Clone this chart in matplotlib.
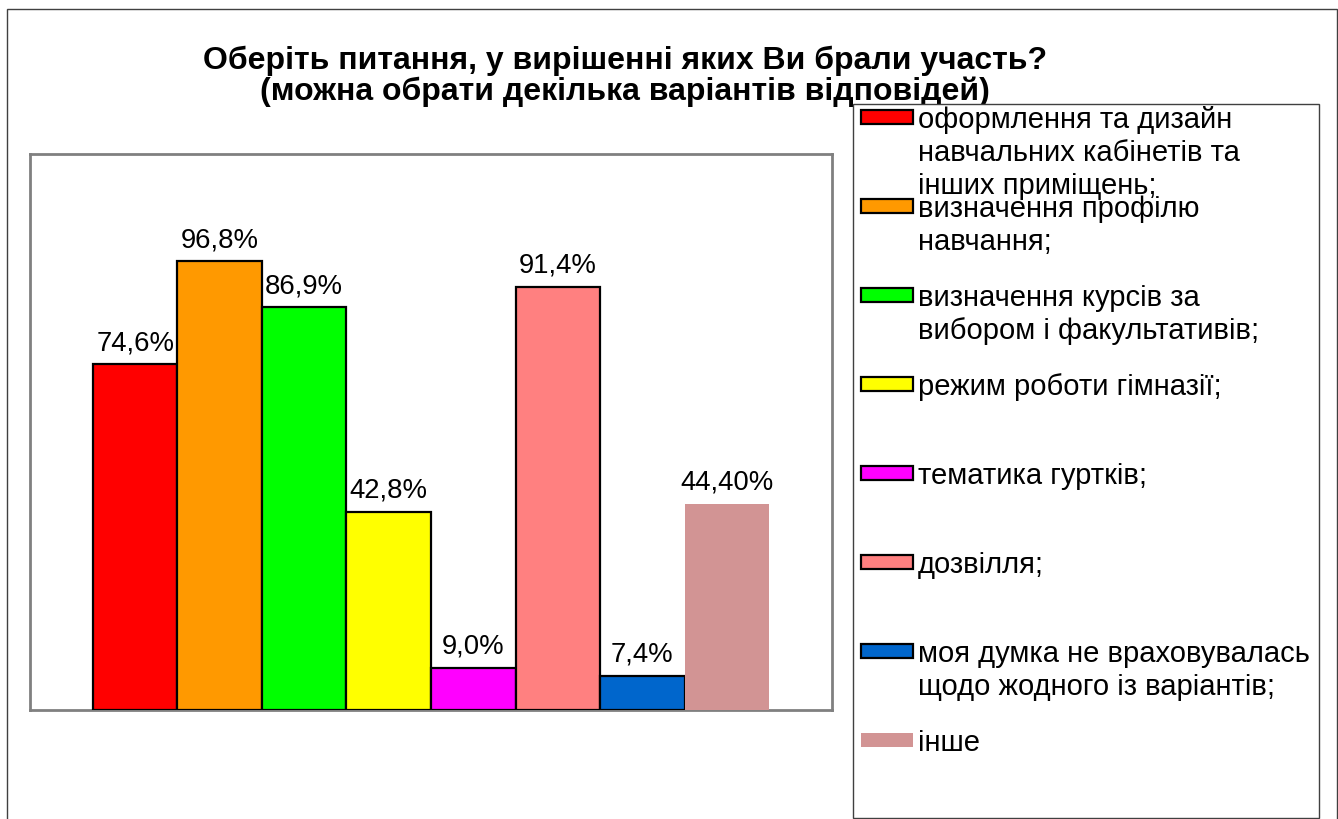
import matplotlib
matplotlib.use('Agg')
import matplotlib.pyplot as plt
from matplotlib.patches import Rectangle

plt.rcParams['font.family'] = ['Liberation Sans', 'DejaVu Sans']

# Data
categories = [
    "оформлення та дизайн\nнавчальних кабінетів та\nінших приміщень;",
    "визначення профілю\nнавчання;",
    "визначення курсів за\nвибором і факультативів;",
    "режим роботи гімназії;",
    "тематика гуртків;",
    "дозвілля;",
    "моя думка не враховувалась\nщодо жодного із варіантів;",
    "інше",
]
values = [74.6, 96.8, 86.9, 42.8, 9.0, 91.4, 7.4, 44.4]
value_labels = ["74,6%", "96,8%", "86,9%", "42,8%", "9,0%", "91,4%", "7,4%", "44,40%"]
colors = ["#FF0000", "#FF9900", "#00FF00", "#FFFF00", "#FF00FF", "#FF8080", "#0066CC", "#D29494"]
edged = [True, True, True, True, True, True, True, False]

title = "Оберіть питання, у вирішенні яких Ви брали участь?\n(можна обрати декілька варіантів відповідей)"

W, H = 1338, 819
fig = plt.figure(figsize=(W / 100, H / 100), dpi=100)


def fx(px):
    return px / W


def fy(py):
    return 1 - py / H


# outer chart frame
fig.patches.append(Rectangle((fx(7), fy(840)), fx(1337) - fx(7), fy(9) - fy(840),
                             transform=fig.transFigure, fill=False,
                             edgecolor="#404040", linewidth=1.0, zorder=0))

# plot area
ax = fig.add_axes([fx(30), fy(710), fx(832) - fx(30), fy(154) - fy(710)])
for s in ax.spines.values():
    s.set_color("#808080")
    s.set_linewidth(2)
ax.set_xticks([])
ax.set_yticks([])
ax.set_ylim(0, 120)
ax.set_xlim(-1.245, len(values) - 1 + 1.245)

for i, (v, c, e) in enumerate(zip(values, colors, edged)):
    ax.bar(i, v, width=1.0, color=c,
           edgecolor="black" if e else c,
           linewidth=1.6 if e else 0, zorder=3)
    ax.annotate(value_labels[i], (i, v), xytext=(0, 6), textcoords="offset points",
                ha="center", va="bottom", fontsize=19.8)

# title (last line baseline anchored)
fig.text(fx(625), fy(100), title, ha="center", va="baseline", fontsize=23,
         fontweight="bold", linespacing=1.04, zorder=1)

# legend box (drawn over the title, like the original)
lx0, ly0, lx1, ly1 = 853, 104, 1319, 818
fig.patches.append(Rectangle((fx(lx0), fy(ly1)), fx(lx1) - fx(lx0), fy(ly0) - fy(ly1),
                             transform=fig.transFigure, facecolor="white",
                             edgecolor="#404040", linewidth=1.0, zorder=5))
step = 89
for i, (lab, c, e) in enumerate(zip(categories, colors, edged)):
    yc = 117 + i * step
    fig.patches.append(Rectangle((fx(861), fy(yc + 7)), fx(913) - fx(861), fy(yc - 7) - fy(yc + 7),
                                 transform=fig.transFigure, facecolor=c,
                                 edgecolor="black" if e else c,
                                 linewidth=1.6 if e else 0, zorder=6))
    fig.text(fx(918), fy(yc - 11), lab, ha="left", va="top", fontsize=21,
             linespacing=1.22, zorder=7)

fig.savefig("out.png", dpi=100)
